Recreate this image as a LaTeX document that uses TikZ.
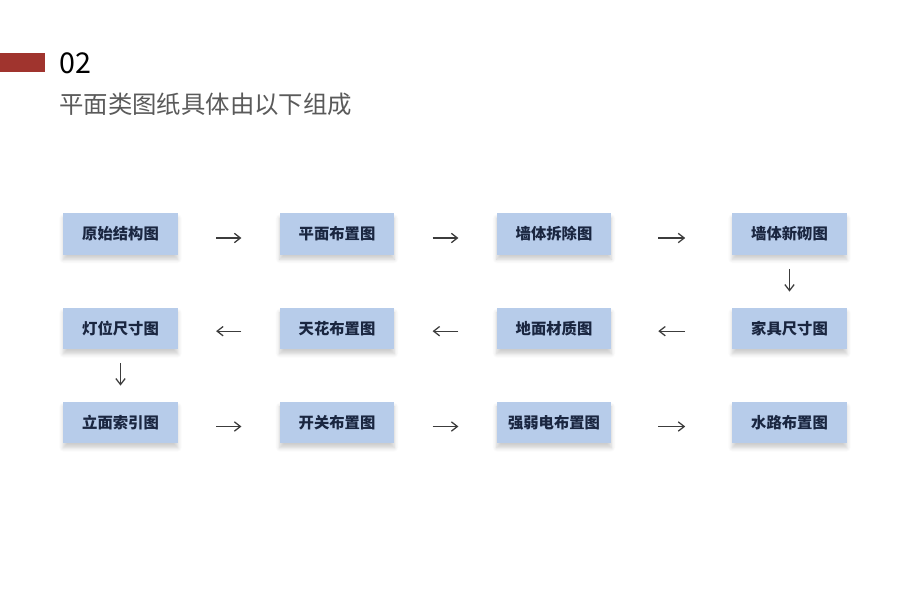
\documentclass[tikz,border=0pt]{standalone}
\usepackage{fontspec}
\setmainfont{Noto Sans CJK SC}
\usetikzlibrary{arrows.meta,shadows.blur}

\definecolor{barred}{RGB}{160,52,46}
\definecolor{boxblue}{RGB}{183,204,234}
\definecolor{boxtext}{RGB}{26,38,64}
\definecolor{titlegray}{RGB}{90,90,90}
\definecolor{arrowgray}{RGB}{60,60,60}

\tikzset{
  stage/.style={fill=boxblue, text=boxtext, font=\fontsize{11.5}{12}\selectfont\bfseries,
    minimum width=86pt, minimum height=31pt, inner sep=0pt,
    blur shadow={shadow xshift=0pt, shadow yshift=-3.5pt, shadow blur steps=8, shadow blur radius=3pt, shadow opacity=20}},
  flow/.style={-{Straight Barb[length=4.5pt,width=7pt]}, draw=arrowgray, line width=0.95pt,
    shorten <=28.5pt, shorten >=28.5pt},
  wide/.style={shorten <=35pt, shorten >=35pt},
  down/.style={-{Straight Barb[length=4.5pt,width=7pt]}, draw=arrowgray, line width=0.95pt,
    shorten <=10.5pt, shorten >=12pt}
}

\begin{document}
\begin{tikzpicture}[x=0.75pt,y=-0.75pt]
  \useasboundingbox (0,0) rectangle (920,589);
  % heading
  \fill[barred] (0,53) rectangle (45,72);
  \node[anchor=west, inner sep=0pt, font=\fontsize{21.5}{23}\selectfont] (num) at (59,63) {02};
  \node[anchor=west, inner sep=0pt, text=titlegray, font=\fontsize{18.3}{20}\selectfont] (sub) at (59,104) {平面类图纸具体由以下组成};
  % stages
  \draw
    (120.5,234) node[stage] (a1){原始结构图}
    (337,234) node[stage] (a2){平面布置图}
    (554,234) node[stage] (a3){墙体拆除图}
    (789.5,234) node[stage] (a4){墙体新砌图}
    (120.5,328.5) node[stage] (b1){灯位尺寸图}
    (337,328.5) node[stage] (b2){天花布置图}
    (554,328.5) node[stage] (b3){地面材质图}
    (789.5,328.5) node[stage] (b4){家具尺寸图}
    (120.5,422.5) node[stage] (c1){立面索引图}
    (337,422.5) node[stage] (c2){开关布置图}
    (554,422.5) node[stage] (c3){强弱电布置图}
    (789.5,422.5) node[stage] (c4){水路布置图};
  % connectors
  \begin{scope}[flow]
    \draw ([yshift=-3pt]a1.east) to ([yshift=-3pt]a2.west);
    \draw ([yshift=-3pt]a2.east) to ([yshift=-3pt]a3.west);
    \draw[wide] ([yshift=-3pt]a3.east) to ([yshift=-3pt]a4.west);
    \draw[down] (a4) to (b4);
    \draw[wide] ([yshift=-2pt]b4.west) to ([yshift=-2pt]b3.east);
    \draw ([yshift=-2pt]b3.west) to ([yshift=-2pt]b2.east);
    \draw ([yshift=-2pt]b2.west) to ([yshift=-2pt]b1.east);
    \draw[down] (b1) to (c1);
    \draw ([yshift=-3pt]c1.east) to ([yshift=-3pt]c2.west);
    \draw ([yshift=-3pt]c2.east) to ([yshift=-3pt]c3.west);
    \draw[wide] ([yshift=-3pt]c3.east) to ([yshift=-3pt]c4.west);
  \end{scope}
\end{tikzpicture}
\end{document}
